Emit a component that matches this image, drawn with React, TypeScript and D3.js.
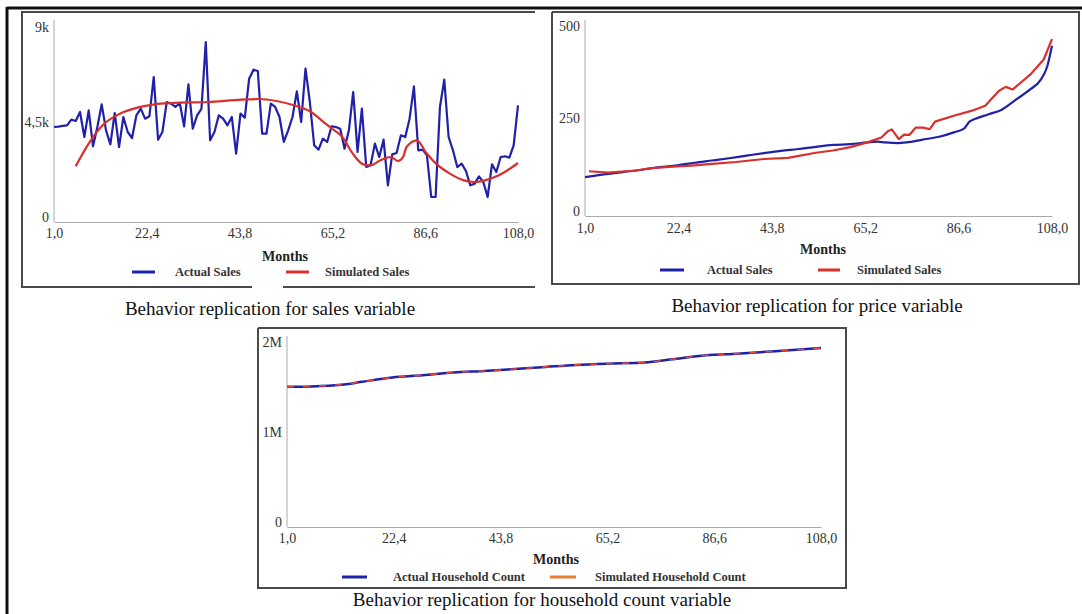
import * as d3 from 'd3';
import {useEffect, useRef} from 'react';

// shared x ticks (months)
const xTicks = [1, 22.4, 43.8, 65.2, 86.6, 108];

// sales chart: actual sales, one value per month 1..108
const actualSales = [
  4500, 4520, 4550, 4580, 4848, 4784, 5211, 4026, 5290, 3584,
  4500, 5574, 4342, 3679, 5163, 3553, 4974, 4263, 3979, 5053,
  5369, 4895, 5005, 6869, 3900, 4263, 5684, 5605, 5448, 5637,
  4532, 6521, 4421, 5053, 5353, 8527, 3869, 4263, 5053, 4895,
  4579, 4974, 3237, 5132, 4942, 6790, 7216, 7153, 4184, 4184,
  5605, 5448, 4974, 3790, 4342, 4974, 6190, 4737, 7263, 5684,
  3632, 3426, 3948, 3790, 4532, 4500, 4421, 3474, 4342, 6158,
  3316, 5369, 2605, 2684, 3711, 3079, 3900, 1737, 3205, 3269,
  4105, 4026, 4895, 6427, 3395, 3426, 3158, 1184, 1184, 5448,
  6742, 4026, 3395, 2605, 2763, 2416, 1737, 1816, 2163, 1895,
  1184, 2732, 2369, 3079, 3111, 3047, 3632, 5527,
];
const simSalesMonths = [6, 9, 12.2, 16.2, 20.2, 24.2, 28.2, 36.3, 44.3, 48.3, 52.3, 56.3, 60.3, 62.7, 65.1, 67.5, 69.9, 72.3, 73.9, 76.3, 78.7, 80.3, 81.5, 82.3, 84.7, 86.7, 89.1, 92.3, 95.5, 98, 100.4, 103.6, 108];
const simSales = [2637, 3711, 4579, 5132, 5416, 5574, 5637, 5684, 5795, 5827, 5732, 5527, 5211, 4816, 4421, 4026, 3237, 2732, 2684, 2921, 3079, 2889, 3079, 3553, 3869, 3316, 2763, 2290, 1974, 1895, 1974, 2211, 2795];

// price chart
const priceActualMonths = [1, 6.3, 12.7, 18.2, 22.2, 26.1, 30.1, 34, 38, 42, 45.9, 49.9, 53.9, 57.8, 61.8, 65.7, 68.1, 69.7, 72.9, 76, 79.2, 82.4, 85.5, 87.9, 89.1, 90.3, 93.5, 96.6, 99.8, 103, 105.4, 106.9, 108];
const priceActual = [105, 114, 123, 132, 137, 144, 150, 156, 163, 170, 176, 181, 187, 192, 194, 199, 201, 199, 197, 201, 208, 215, 226, 237, 255, 262, 275, 288, 315, 342, 368, 404, 460];
const priceSimMonths = [1.9, 6.3, 12.7, 15.8, 22.2, 26.1, 30.1, 35.6, 42, 47.5, 53.9, 57.8, 61.8, 65.7, 68.9, 70.5, 71.3, 72.9, 74.1, 75.3, 76.8, 78.4, 80, 81.2, 85.5, 89.5, 92.7, 95.8, 97.4, 99, 103, 106.1, 108];
const priceSim = [121, 117, 123, 129, 134, 137, 141, 146, 154, 157, 171, 177, 186, 199, 212, 230, 234, 208, 220, 219, 239, 239, 235, 255, 271, 284, 298, 338, 349, 342, 382, 423, 478];

// household count chart
const householdMonths = [1, 7, 12.9, 16, 22.1, 28.2, 34.4, 40.5, 46.6, 52.8, 58.9, 65, 72.7, 78.1, 85, 91.1, 98.8, 108];
const householdCount = [1.557e6, 1.565e6, 1.587e6, 1.613e6, 1.661e6, 1.686e6, 1.716e6, 1.734e6, 1.756e6, 1.779e6, 1.801e6, 1.815e6, 1.827e6, 1.863e6, 1.908e6, 1.926e6, 1.952e6, 1.99e6];

const BLUE = '#2020a8';
const RED = '#d8302c';
const ORANGE = '#e8803a';
const FONT = '"Liberation Serif", "Times New Roman", serif';

const fmtX = (d: number) => d.toFixed(1).replace('.', ',');

export default function App() {
  const ref = useRef<SVGSVGElement>(null);

  useEffect(() => {
    const svg = d3.select(ref.current);
    svg.selectAll('*').remove();
    svg.attr('font-family', FONT);

    // outer frame
    svg.append('line').attr('x1', 7).attr('x2', 1082).attr('y1', 8).attr('y2', 8)
      .attr('stroke', '#111').attr('stroke-width', 3);
    svg.append('line').attr('x1', 7).attr('x2', 7).attr('y1', 7).attr('y2', 614)
      .attr('stroke', '#111').attr('stroke-width', 3);

    const box = (pts: [number, number][]) =>
      svg.append('path').attr('d', d3.line()(pts)).attr('fill', 'none')
        .attr('stroke', '#4a4a4a').attr('stroke-width', 2);

    // panel boxes
    box([[535, 12], [22, 12], [22, 287], [252, 287]]);
    box([[283, 287], [535, 287]]);
    box([[552, 12], [1079, 12], [1079, 284], [552, 284], [552, 12]]);
    box([[258, 328], [846, 328], [846, 588], [258, 588], [258, 328]]);

    type Series = {xs: number[]; ys: number[]; color: string; width: number; dash?: string; curve?: d3.CurveFactory};
    type Panel = {
      x0: number; x1: number; yBase: number; yTop: number; axisTop: number;
      yMax: number; yTicks: number[]; yLabels: string[]; tickPad: number;
      series: Series[];
      monthsX: number; monthsY: number;
      legend: {x1: number; x2: number; tx: number; label: string; color: string}[];
      legendY: number;
    };

    const drawPanel = (p: Panel) => {
      const x = d3.scaleLinear().domain([1, 108]).range([p.x0, p.x1]);
      const y = d3.scaleLinear().domain([0, p.yMax]).range([p.yBase, p.yTop]);
      const g = svg.append('g');

      const xa = g.append('g').attr('transform', `translate(0,${p.yBase})`)
        .call(d3.axisBottom(x).tickValues(xTicks).tickFormat((d) => fmtX(d as number)).tickSize(0).tickPadding(p.tickPad));
      xa.select('.domain').attr('stroke', '#aaa');
      xa.selectAll('text').attr('font-size', 14).attr('fill', '#333').attr('font-family', FONT);

      const ya = g.append('g').attr('transform', `translate(${p.x0},0)`)
        .call(d3.axisLeft(y).tickValues(p.yTicks).tickFormat((_d, i) => p.yLabels[i]).tickSize(0).tickPadding(5));
      ya.select('.domain').remove();
      ya.selectAll('text').attr('font-size', 14).attr('fill', '#333').attr('dy', '-0.05em').attr('font-family', FONT);
      g.append('line').attr('x1', p.x0).attr('x2', p.x0).attr('y1', p.axisTop).attr('y2', p.yBase)
        .attr('stroke', '#aaa');

      p.series.forEach((s) => {
        const line = d3.line<number>()
          .x((_d, i) => x(s.xs[i]))
          .y((d) => y(d))
          .curve(s.curve ?? d3.curveLinear);
        g.append('path').attr('d', line(s.ys)).attr('fill', 'none')
          .attr('stroke', s.color).attr('stroke-width', s.width)
          .attr('stroke-linejoin', 'round')
          .attr('stroke-dasharray', s.dash ?? null);
      });

      g.append('text').attr('x', p.monthsX).attr('y', p.monthsY).attr('text-anchor', 'middle')
        .attr('font-size', 14).attr('font-weight', 'bold').attr('fill', '#222').text('Months');

      p.legend.forEach((l) => {
        g.append('line').attr('x1', l.x1).attr('x2', l.x2).attr('y1', p.legendY).attr('y2', p.legendY)
          .attr('stroke', l.color).attr('stroke-width', 3);
        g.append('text').attr('x', l.tx).attr('y', p.legendY + 4).attr('font-size', 12.5)
          .attr('font-weight', 'bold').attr('fill', '#333').text(l.label);
      });
    };

    const months = actualSales.map((_d, i) => i + 1);

    drawPanel({
      x0: 54, x1: 518, yBase: 222, yTop: 32, axisTop: 20, yMax: 9000,
      yTicks: [0, 4500, 9000], yLabels: ['0', '4,5k', '9k'], tickPad: 6,
      series: [
        {xs: months, ys: actualSales, color: BLUE, width: 2.2},
        {xs: simSalesMonths, ys: simSales, color: RED, width: 2.2, curve: d3.curveMonotoneX},
      ],
      monthsX: 285, monthsY: 261,
      legend: [
        {x1: 132, x2: 155, tx: 175, label: 'Actual Sales', color: BLUE},
        {x1: 286, x2: 309, tx: 325, label: 'Simulated Sales', color: RED},
      ],
      legendY: 272,
    });

    drawPanel({
      x0: 585, x1: 1052, yBase: 216, yTop: 31, axisTop: 20, yMax: 500,
      yTicks: [0, 250, 500], yLabels: ['0', '250', '500'], tickPad: 7,
      series: [
        {xs: priceActualMonths, ys: priceActual, color: BLUE, width: 2.2, curve: d3.curveMonotoneX},
        {xs: priceSimMonths, ys: priceSim, color: RED, width: 2.2},
      ],
      monthsX: 823, monthsY: 254,
      legend: [
        {x1: 660, x2: 684, tx: 707, label: 'Actual Sales', color: BLUE},
        {x1: 818, x2: 840, tx: 857, label: 'Simulated Sales', color: RED},
      ],
      legendY: 270,
    });

    drawPanel({
      x0: 287, x1: 821, yBase: 527, yTop: 347, axisTop: 336, yMax: 2e6,
      yTicks: [0, 1e6, 2e6], yLabels: ['0', '1M', '2M'], tickPad: 6,
      series: [
        {xs: householdMonths, ys: householdCount, color: BLUE, width: 2.5, curve: d3.curveMonotoneX},
        {xs: householdMonths, ys: householdCount, color: '#e04a3a', width: 1.6, dash: '7 9', curve: d3.curveMonotoneX},
      ],
      monthsX: 556, monthsY: 564,
      legend: [
        {x1: 342, x2: 367, tx: 393, label: 'Actual Household Count', color: BLUE},
        {x1: 550, x2: 576, tx: 595, label: 'Simulated Household Count', color: ORANGE},
      ],
      legendY: 577,
    });

    // captions
    const caption = (cx: number, cy: number, t: string) =>
      svg.append('text').attr('x', cx).attr('y', cy).attr('text-anchor', 'middle')
        .attr('font-size', 19).attr('fill', '#111').text(t);
    caption(270, 315, 'Behavior replication for sales variable');
    caption(817, 312, 'Behavior replication for price variable');
    caption(542, 606, 'Behavior replication for household count variable');
  }, []);

  return (
    <svg ref={ref} width={1082} height={614}
      style={{position: 'absolute', left: 0, top: 0, background: '#fff'}} />
  );
}
